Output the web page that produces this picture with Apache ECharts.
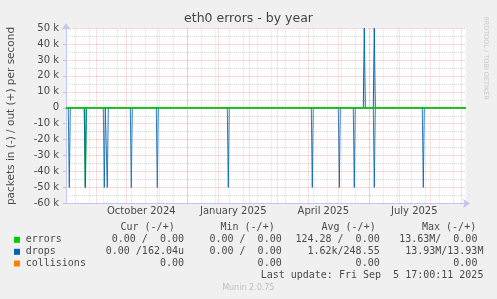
<!DOCTYPE html>
<html><head><meta charset="utf-8">
<script src="https://cdn.jsdelivr.net/npm/echarts@6/dist/echarts.min.js"></script>
<style>html,body{margin:0;padding:0;background:#f0f0f0}#c{width:497px;height:299px}</style>
</head><body><div id="c"></div>
<script>
// ---------- data ----------
const rangeStart = '2024-08-01T17:00:00Z';
const rangeEnd = '2025-09-05T17:00:00Z';
const yMin = -60000, yMax = 50000, yStep = 10000;

const monthLabelDates = ['2024-10-16', '2025-01-16', '2025-04-16', '2025-07-16'];
const monthLabels = ['October 2024', 'January 2025', 'April 2025', 'July 2025'];
const monthGridDates = ['2024-09-01','2024-10-01','2024-11-01','2024-12-01','2025-01-01','2025-02-01',
  '2025-03-01','2025-04-01','2025-05-01','2025-06-01','2025-07-01','2025-08-01','2025-09-01'];
const minorGridFirst = '2024-08-11';
const minorGridDays = 14;

const errorsInDates = ['2024-08-21'];
const errorsInValues = [-50000];
const errorsOutDates = [];
const errorsOutValues = [];
const dropsInDates = ['2024-08-05','2024-08-21','2024-09-09','2024-09-12','2024-10-06','2024-11-01',
  '2025-01-11','2025-04-05','2025-05-02','2025-05-17','2025-06-06','2025-07-25'];
const dropsInValues = [-50000,-50000,-50000,-50000,-50000,-50000,-50000,-50000,-50000,-50000,-50000,-50000];
const dropsOutDates = ['2025-05-27','2025-06-06'];
const dropsOutValues = [50000, 50000];
const collisionsDates = [];
const collisionsValues = [];

const legendNames = ['errors', 'drops', 'collisions'];
const legendColors = ['#00cc00', '#0066b3', '#ff8000'];
const colHeaders = ['Cur (-/+)', 'Min (-/+)', 'Avg (-/+)', 'Max (-/+)'];
const legendCur = ['0.00 /  0.00', '0.00 /162.04u', '0.00'];
const legendMin = ['0.00 /  0.00', '0.00 /  0.00', '0.00'];
const legendAvg = ['124.28 /  0.00', '1.62k/248.55', '0.00'];
const legendMax = ['13.63M/  0.00', '13.93M/13.93M', '0.00'];
const lastUpdate = 'Last update: Fri Sep  5 17:00:11 2025';

// ---------- helpers ----------
const DAY = 86400000;
const ts = s => Date.parse(s.length === 10 ? s + 'T00:00:00Z' : s);
const t0 = ts(rangeStart), t1 = ts(rangeEnd);
function spikes(dates, values) {
  const pts = [[t0, 0]];
  dates.map((d, i) => [ts(d), values[i]]).sort((a, b) => a[0] - b[0]).forEach(([t, v]) => {
    pts.push([t - DAY, 0], [t, v], [t + DAY, 0]);
  });
  pts.push([t1, 0]);
  return pts;
}
const minorGrid = [];
for (let t = ts(minorGridFirst); t < t1; t += minorGridDays * DAY) minorGrid.push(t);
const labelTs = monthLabelDates.map(ts);

const mono = 'DejaVu Sans Mono';
const txtColor = '#4a4a4a';
const majorGridColor = 'rgba(230,110,110,0.42)';
const minorGridColor = 'rgba(160,160,160,0.38)';
const graphic = [];
function txt(x, y, text, align) {
  graphic.push({
    type: 'text', silent: true,
    style: { x, y, text, font: '10px "' + mono + '"', fill: txtColor, align, verticalAlign: 'middle' }
  });
}
// axis name
graphic.push({ type: 'text', silent: true, x: 11, y: 116, rotation: Math.PI / 2,
  style: { x: 0, y: 0, text: 'packets in (-) / out (+) per second', font: '10.5px "DejaVu Sans"', fill: txtColor, align: 'center', verticalAlign: 'middle' } });
// watermark
graphic.push({ type: 'text', silent: true, x: 486, y: 58, rotation: -Math.PI / 2,
  style: { x: 0, y: 0, text: 'RRDTOOL / TOBI OETIKER', font: '6.5px "DejaVu Sans"', fill: '#c8c8c8', align: 'center', verticalAlign: 'middle' } });
// legend table
const headX = [120.5, 220.5, 321.5, 422];
colHeaders.forEach((h, i) => txt(headX[i], 227.5, h, 'left'));
const rowY = [239.8, 251.8, 263.5];
const colEnd = [184, 281.7, 379.7, 477.4];
legendNames.forEach((n, i) => {
  graphic.push({ type: 'rect', silent: true, shape: { x: 14, y: rowY[i] - 3, width: 6, height: 6 }, style: { fill: legendColors[i] } });
  txt(25.7, rowY[i], n, 'left');
  txt(colEnd[0], rowY[i], legendCur[i], 'right');
  txt(colEnd[1], rowY[i], legendMin[i], 'right');
  txt(colEnd[2], rowY[i], legendAvg[i], 'right');
  txt(colEnd[3] + (i === 1 ? 6 : 0), rowY[i], legendMax[i], 'right');
});
txt(483.4, 275.8, lastUpdate, 'right');
graphic.push({ type: 'text', silent: true, style: { x: 248.3, y: 288.3, text: 'Munin 2.0.75', font: '8px "DejaVu Sans"', fill: '#c0c0c0', align: 'center', verticalAlign: 'middle' } });

const axisColor = '#c4c4f4';
const lineOpts = { type: 'line', showSymbol: false, symbol: 'none', animation: false, silent: true, clip: true };

const chart = echarts.init(document.getElementById('c'), null, { renderer: 'canvas' });
chart.setOption({
  backgroundColor: '#f0f0f0',
  animation: false,
  title: { text: 'eth0 errors - by year', left: 'center', top: 12, padding: 0,
    textStyle: { fontFamily: 'DejaVu Sans', fontSize: 12.5, fontWeight: 'normal', color: '#444' } },
  grid: { left: 66, right: 31, top: 28, bottom: 95.5, show: true, backgroundColor: '#ffffff', borderWidth: 0 },
  xAxis: {
    type: 'value', min: t0, max: t1, scale: true,
    axisLine: { show: true, onZero: false, lineStyle: { color: axisColor, width: 1 }, symbol: ['none', 'arrow'], symbolSize: [7, 7], symbolOffset: [0, 4] },
    axisTick: { show: false },
    splitLine: { show: false },
    axisLabel: {
      customValues: labelTs,
      margin: 3,
      fontFamily: 'DejaVu Sans', fontSize: 10, color: txtColor,
      formatter: v => {
        let best = 0;
        labelTs.forEach((t, k) => { if (Math.abs(t - v) < Math.abs(labelTs[best] - v)) best = k; });
        return monthLabels[best];
      }
    }
  },
  yAxis: {
    type: 'value', min: yMin, max: yMax, interval: yStep,
    axisLine: { show: true, lineStyle: { color: axisColor, width: 1 }, symbol: ['none', 'arrow'], symbolSize: [7, 7], symbolOffset: [0, 5] },
    axisTick: { show: true, length: 3, lineStyle: { color: '#c0c0dc' } },
    axisLabel: { margin: 7, fontFamily: 'DejaVu Sans', fontSize: 10, color: txtColor,
      formatter: v => v === 0 ? '0' : (v / 1000) + ' k' },
    splitLine: { show: true, lineStyle: { color: majorGridColor, type: [1, 1], width: 1 } },
    minorTick: { show: false, splitNumber: 2 },
    minorSplitLine: { show: true, lineStyle: { color: minorGridColor, type: [1, 1], width: 1 } }
  },
  graphic,
  series: [
    Object.assign({}, lineOpts, { name: 'grid', data: [], z: 1,
      markLine: { silent: true, symbol: ['none', 'none'], label: { show: false }, animation: false,
        data: minorGrid.map(t => ({ xAxis: t, lineStyle: { color: minorGridColor, type: [1, 1], width: 1 } }))
          .concat(monthGridDates.map(d => ({ xAxis: ts(d), lineStyle: { color: majorGridColor, type: [1, 1], width: 1 } }))) } }),
    Object.assign({}, lineOpts, { name: 'collisions', z: 2, data: spikes(collisionsDates, collisionsValues), lineStyle: { color: '#ff8000', width: 1 } }),
    Object.assign({}, lineOpts, { name: 'errors in', z: 2, data: spikes(errorsInDates, errorsInValues), lineStyle: { color: '#00cc00', width: 1.2 } }),
    Object.assign({}, lineOpts, { name: 'drops in', z: 3, data: spikes(dropsInDates, dropsInValues), lineStyle: { color: '#0066b3', width: 1, opacity: 0.85 } }),
    Object.assign({}, lineOpts, { name: 'drops out', z: 3, data: spikes(dropsOutDates, dropsOutValues), lineStyle: { color: '#0066b3', width: 1 } }),
    Object.assign({}, lineOpts, { name: 'errors out', z: 4, data: spikes(errorsOutDates, errorsOutValues), lineStyle: { color: '#00cc00', width: 1.5 } })
  ]
});
</script></body></html>
